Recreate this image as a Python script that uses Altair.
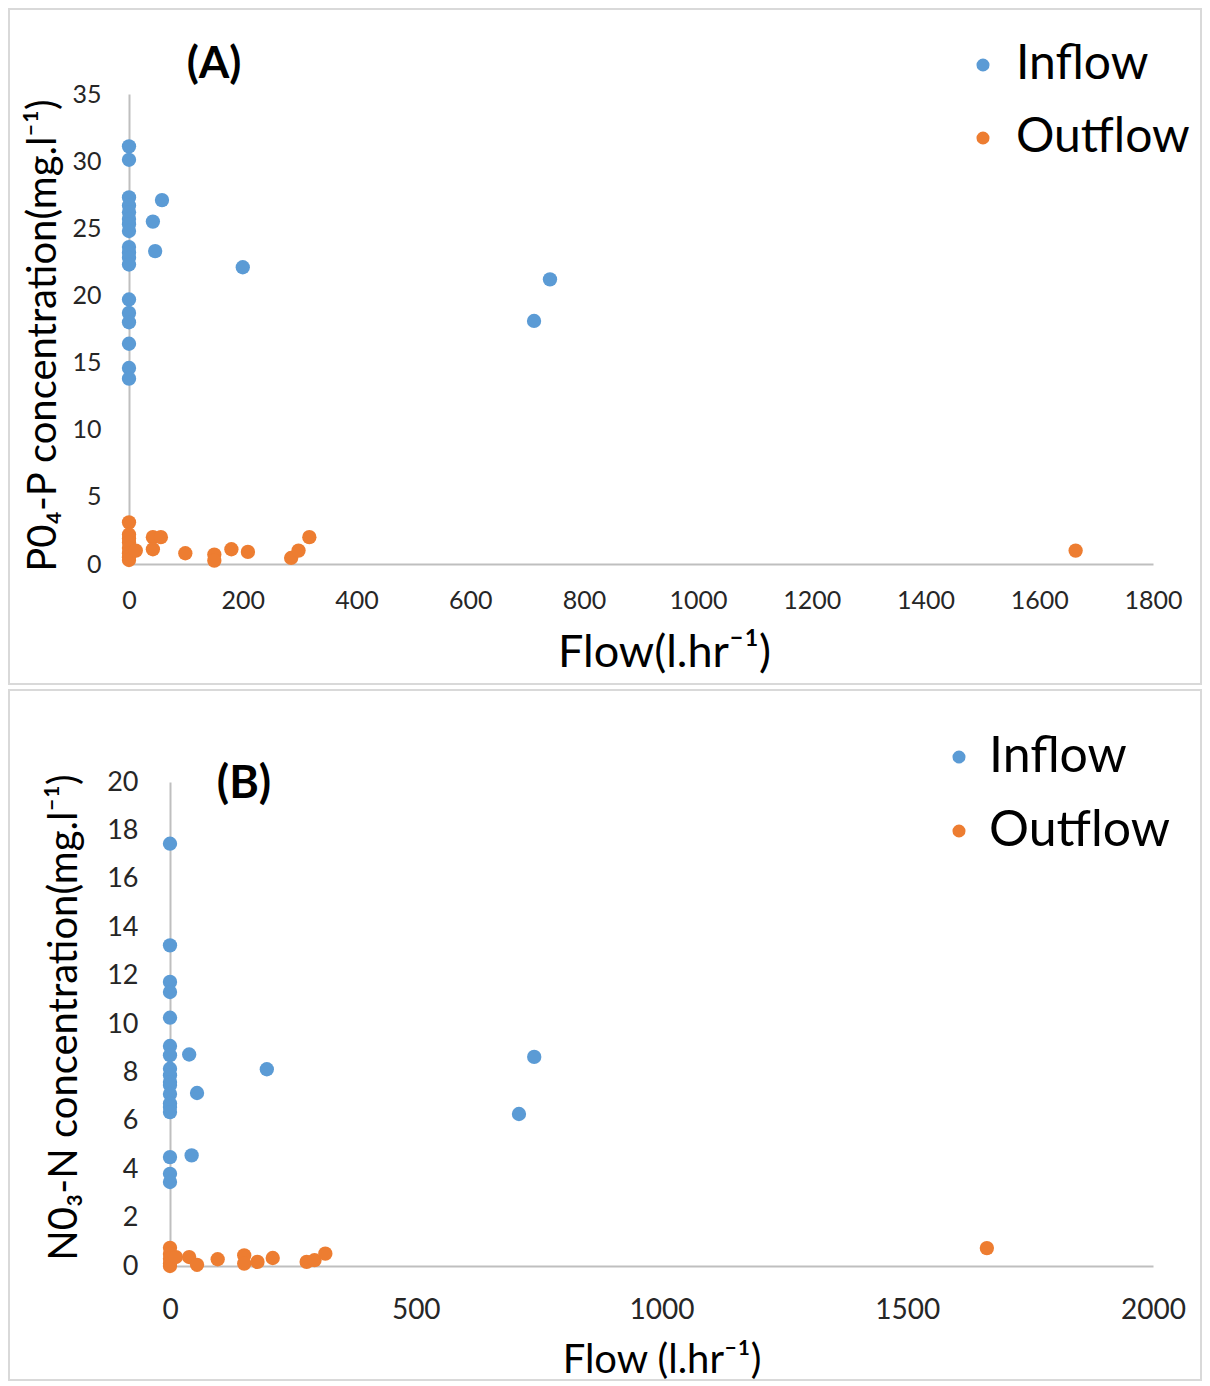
import altair as alt
import pandas as pd

BLUE = "#5B9BD5"
ORANGE = "#ED7D31"
FONT = "Lato"
SERIES = ["Inflow", "Outflow"]

# ---- Panel A: PO4-P ----
a_in_flow = [0, 0, 0, 0, 0, 0, 0, 0, 0, 0, 0, 0, 0, 0, 0, 0, 0, 0, 58, 42, 46, 200, 712, 740]
a_in_conc = [31.1, 30.1, 27.3, 26.7, 26.2, 25.7, 25.3, 24.8, 23.6, 23.2, 22.8, 22.3,
             19.7, 18.7, 18.0, 16.4, 14.6, 13.8, 27.1, 25.5, 23.3, 22.1, 18.1, 21.2]
a_out_flow = [0, 0, 0, 0, 0, 0, 0, 0, 12, 42, 56, 42, 99, 150, 150, 180, 209, 285, 298, 317, 1664]
a_out_conc = [3.1, 2.2, 1.9, 1.6, 1.2, 0.8, 0.5, 0.3, 1.0, 2.0, 2.0, 1.1, 0.8, 0.7, 0.25, 1.1, 0.9, 0.45, 1.0, 2.0, 1.0]

# ---- Panel B: NO3-N ----
b_in_flow = [0] * 18 + [39, 55, 44, 197, 710, 741]
b_in_conc = [17.45, 13.25, 11.74, 11.32, 10.26, 9.09, 8.71, 8.15, 7.88, 7.6, 7.48, 7.11,
             6.71, 6.57, 6.36, 4.5, 3.81, 3.47, 8.74, 7.15, 4.57, 8.13, 6.28, 8.64]
b_out_flow = [0, 0, 0, 0, 0, 12, 39, 55, 97, 151, 151, 178, 209, 278, 294, 316, 1662]
b_out_conc = [0.75, 0.5, 0.3, 0.1, 0.0, 0.37, 0.37, 0.05, 0.28, 0.44, 0.1, 0.17, 0.33, 0.17, 0.24, 0.51, 0.74]


def make_df(in_flow, in_conc, out_flow, out_conc):
    return pd.DataFrame({
        "flow": in_flow + out_flow,
        "conc": in_conc + out_conc,
        "series": ["Inflow"] * len(in_flow) + ["Outflow"] * len(out_flow),
    })


def panel(df, w, h, xmax, xstep, ymax, ystep, xtitle, ytitle, label, p):
    border = alt.Chart(pd.DataFrame({"t": [0]})).mark_rect(
        fill="white", fillOpacity=0, stroke="#D9D9D9", strokeWidth=2
    ).encode(
        x=alt.value(p["bx"]), x2=alt.value(p["bx2"]),
        y=alt.value(p["by"]), y2=alt.value(p["by2"]),
    )
    xaxis = alt.Axis(
        values=list(range(0, xmax + 1, xstep)), format="d", grid=False, ticks=False, tickSize=0,
        domainColor="#BFBFBF", domainWidth=2, labelFlush=False, labelOverlap=False,
        labelFont=FONT, labelFontSize=p["xlfs"], labelColor="#262626", labelPadding=p["xlp"],
        title=xtitle, titleFont=FONT, titleFontSize=p["xtfs"], titleFontWeight="normal",
        titleColor="black", titlePadding=p["xtp"], **({"titleX": p["titleX"]} if "titleX" in p else {}),
    )
    yaxis = alt.Axis(
        values=list(range(0, ymax + 1, ystep)), format="d", grid=False, ticks=False, tickSize=0,
        domainColor="#BFBFBF", domainWidth=2, labelFlush=False, labelOverlap=False,
        labelFont=FONT, labelFontSize=p["ylfs"], labelColor="#262626", labelPadding=p["ylp"],
        title=ytitle, titleFont=FONT, titleFontSize=p["ytfs"], titleFontWeight="normal",
        titleColor="black", titlePadding=p["ytp"], titleY=p["tY"], offset=p["yoff"],
    )
    pts = alt.Chart(df).mark_circle(size=205, opacity=1).encode(
        x=alt.X("flow:Q", scale=alt.Scale(domain=[0, xmax], nice=False, range=[p["x0"], w]), axis=xaxis),
        y=alt.Y("conc:Q", scale=alt.Scale(domain=[0, ymax], nice=False), axis=yaxis),
        color=alt.Color(
            "series:N",
            scale=alt.Scale(domain=SERIES, range=[BLUE, ORANGE]),
            legend=alt.Legend(
                title=None, orient="none", legendX=p["lx"], legendY=p["ly"],
                labelFont=FONT, labelFontSize=p["lfs"], labelColor="black", labelLimit=400,
                symbolType="circle", symbolSize=170, symbolStrokeWidth=0,
                rowPadding=p["lrp"], labelOffset=p["lo"], padding=0,
            ),
        ),
    )
    txt = alt.Chart(pd.DataFrame({"t": [label]})).mark_text(
        font=FONT, fontSize=p["tfs"], fontWeight="bold", color="black", baseline="middle", align="center"
    ).encode(x=alt.value(p["tx"]), y=alt.value(p["ty"]), text="t:N")
    return alt.layer(border, pts, txt).properties(width=w, height=h)


pA = dict(bx=-120, bx2=1072, by=-85, by2=590, x0=0, yoff=0,
          xlfs=25, xlp=24, xtfs=45, xtp=17, titleX=535,
          ylfs=25, ylp=28, ytfs=40, ytp=8, tY=241,
          lx=830, ly=-53, lfs=48, lrp=25, lo=9, tx=85, ty=-29, tfs=44)
pB = dict(bx=-120, bx2=1072, by=-92, by2=598, x0=41, yoff=-41,
          xlfs=28, xlp=30, xtfs=40, xtp=16,
          ylfs=27, ylp=32, ytfs=40, ytp=22, tY=235,
          lx=805, ly=-50, lfs=50, lrp=24, lo=5, tx=115, ty=2, tfs=45)

chartA = panel(make_df(a_in_flow, a_in_conc, a_out_flow, a_out_conc), 1024, 470, 1800, 200, 35, 5,
               "Flow(l.hr⁻¹)", "P0₄-P concentration(mg.l⁻¹)", "(A)", pA)
chartB = panel(make_df(b_in_flow, b_in_conc, b_out_flow, b_out_conc), 1024, 484, 2000, 500, 20, 2,
               "Flow (l.hr⁻¹)", "N0₃-N concentration(mg.l⁻¹)", "(B)", pB)

chart = alt.vconcat(chartA, chartB, spacing=4).resolve_scale(
    x="independent", y="independent", color="independent"
).resolve_legend(color="independent").properties(padding=0).configure_view(stroke=None)

chart.save("out.html", embed_options={"renderer": "svg", "actions": False})
